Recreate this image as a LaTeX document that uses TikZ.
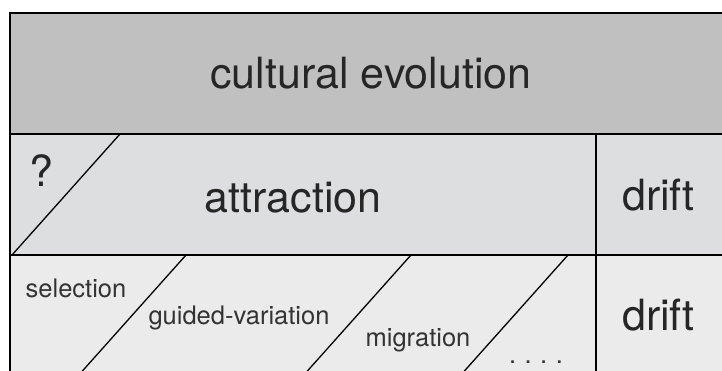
\documentclass[tikz,border=0pt]{standalone}
\usepackage{fontspec}
\setmainfont{TeX Gyre Heros}
\usetikzlibrary{positioning}
\definecolor{toprow}{RGB}{192,192,192}
\definecolor{midrow}{RGB}{221,222,224}
\definecolor{lowrow}{RGB}{235,235,235}
\tikzset{
  big/.style={anchor=base, inner sep=0pt, text=black!85, font=\fontsize{43}{50}\selectfont},
  small/.style={anchor=base, inner sep=0pt, text=black!80, font=\fontsize{25.5}{30}\selectfont},
  cell/.style={draw=black, line width=1.3pt},
  slash/.style={draw=black, line width=1.3pt}
}

\begin{document}
\begin{tikzpicture}[x=1pt, y=-1pt]
	\clip (0,0) rectangle (722,370);
	\fill[white] (0,0) rectangle (722,370);
	
	% rows
	\draw[cell, fill=toprow] (10,13) rectangle (740,134);
	\draw[cell, fill=midrow] (10,134) rectangle (740,255);
	\draw[cell, fill=lowrow] (10,255) rectangle (740,400);
	\draw[cell] (596,134) -- (596,400);
	
	% slashes
	\draw[slash] (12,255) -- (120,134);
	\draw[slash] (186,255) -- (56.5,400);
	\draw[slash] (411,255) -- (281.5,400);
	\draw[slash] (568,255) -- (438.5,400);
	
	\node[big] (culture) at (371,88) {cultural evolution};
	\node[big] (unknown) at (41.5,186) {?};
	\node[big] (attraction) at (293,212) {attraction};
	\node[big] (drifttop) at (658.5,210) {drift};
	\node[big] (driftlow) at (658.5,330) {drift};
	
	\node[small] (selection) at (76,297) {selection};
	\node[small] (guided) at (239,324) {guided-variation};
	\node[small] (migration) at (418,346) {migration};
	\node[small] (more) at (536,363) {.\hspace{8.5pt}.\hspace{8.5pt}.\hspace{8.5pt}.};
\end{tikzpicture}
\end{document}
